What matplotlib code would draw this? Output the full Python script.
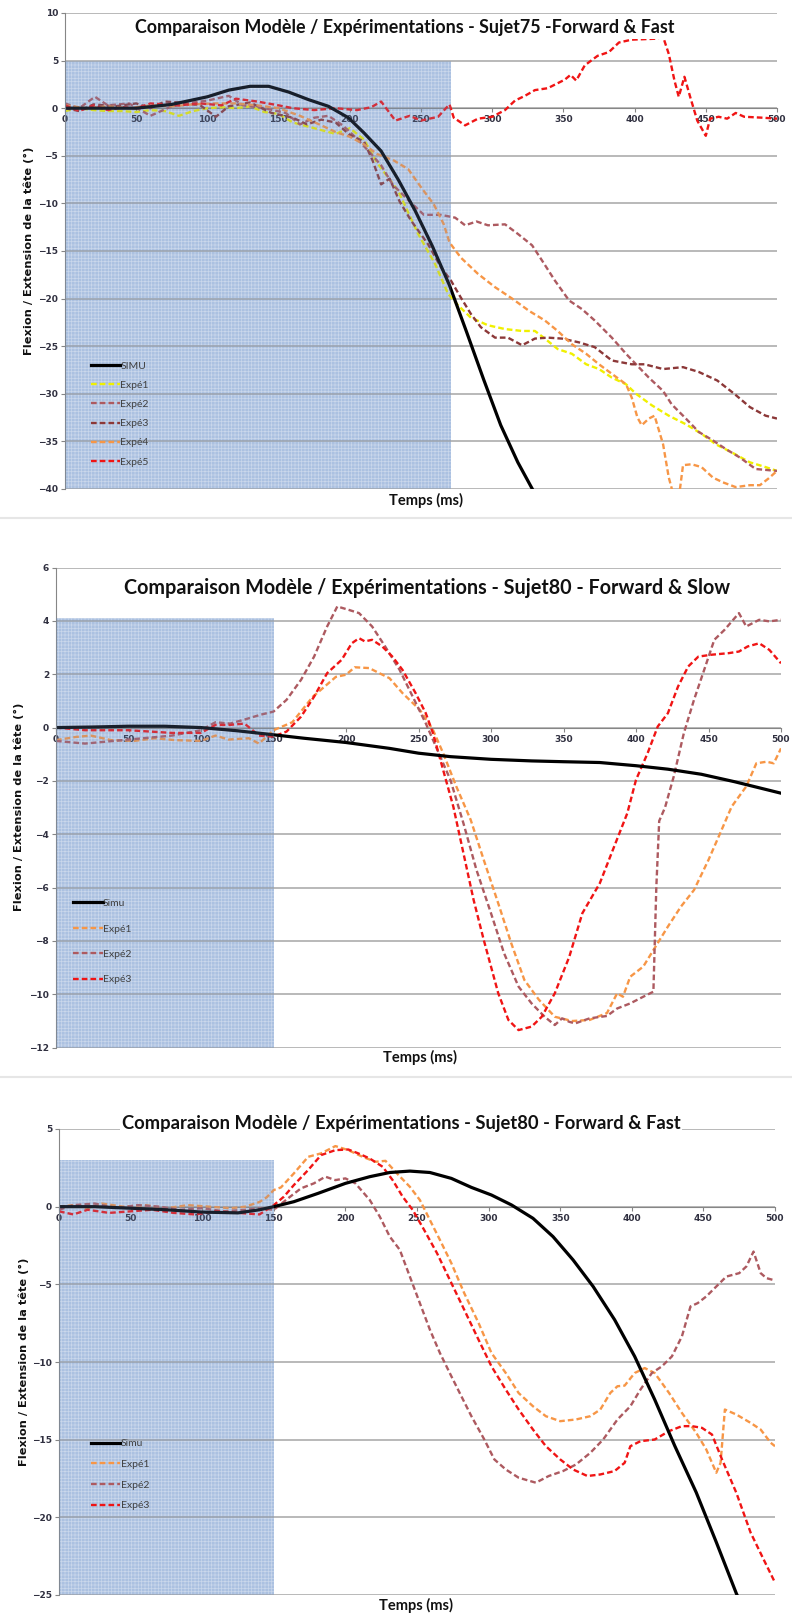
import numpy as np
import matplotlib.pyplot as plt
from matplotlib.patches import Rectangle
from matplotlib.lines import Line2D

plt.rcParams['hatch.linewidth'] = 0.5

# ---------------- data : Sujet75 Forward & Fast ----------------
t_simu1 = [0, 25, 50, 75, 100, 115, 130, 143, 157, 171, 185, 199, 210, 222, 234, 246, 258, 270, 282, 294, 306, 318, 330]
v_simu1 = [0, 0, 0, 0.4, 1.2, 1.9, 2.3, 2.3, 1.7, 0.9, 0.2, -1.0, -2.6, -4.5, -7.5, -10.8, -14.5, -18.6, -23.5, -28.5, -33.3, -37.2, -40.5]

t_exp1_1 = [0, 10, 20, 30, 40, 50, 60, 70, 80, 90, 100, 110, 120, 130, 140, 150, 160, 170, 180, 190, 200, 210, 219, 234, 248, 260, 269, 276, 285, 297, 309, 321, 330, 337, 346, 356, 366, 375, 384, 394, 401, 412, 424, 436, 447, 457, 470, 481, 492, 500]
v_exp1_1 = [-0.3, 0, -0.2, -0.3, -0.3, -0.4, -0.2, -0.3, -0.8, -0.3, 0, 0.1, 0, 0.2, -0.4, -0.6, -1.5, -1.9, -2.3, -2.7, -2.1, -3.3, -5.7, -8.7, -13.2, -16.4, -19.5, -20.7, -22.0, -22.8, -23.2, -23.4, -23.4, -24.2, -25.3, -25.8, -26.9, -27.4, -28.3, -29.0, -30.0, -31.2, -32.3, -33.2, -34.2, -35.3, -36.3, -37.2, -37.7, -38.1]

t_exp2_1 = [0, 10, 21, 30, 45, 60, 75, 90, 100, 115, 125, 140, 155, 165, 175, 185, 195, 205, 215, 222, 230, 240, 252, 264, 274, 281, 289, 297, 309, 318, 328, 335, 344, 354, 363, 372, 384, 394, 401, 410, 420, 426, 436, 445, 455, 464, 474, 485, 500]
v_exp2_1 = [0.5, 0, 1.2, 0.3, 0.5, -0.8, 0.2, 0.6, 0.8, 1.3, 0.3, 0, -0.5, -1.7, -1.0, -0.8, -1.8, -3.2, -4.8, -6.0, -8.0, -9.5, -11.2, -11.2, -11.5, -12.3, -11.9, -12.3, -12.2, -13.2, -14.4, -16.0, -18.1, -20.2, -21.1, -22.3, -24.1, -25.8, -26.9, -28.3, -29.7, -31.1, -32.6, -34.0, -34.9, -35.8, -36.7, -37.9, -38.1]

t_exp3_1 = [0, 10, 20, 35, 50, 60, 70, 80, 95, 106, 115, 130, 145, 160, 170, 180, 190, 200, 210, 216, 222, 228, 235, 243, 255, 264, 271, 278, 285, 292, 302, 311, 321, 330, 339, 349, 361, 372, 384, 398, 407, 420, 434, 445, 458, 470, 481, 492, 500]
v_exp3_1 = [0, -0.3, 0.4, 0.2, 0.5, 0, 0.7, 0.6, 0.3, -0.9, 0.2, 0.6, -0.5, -1.0, -1.7, -1.2, -1.5, -2.8, -3.5, -5.5, -8.0, -7.4, -9.8, -11.8, -14.3, -16.7, -18.1, -19.9, -21.6, -23.0, -24.1, -24.1, -24.9, -24.2, -24.1, -24.2, -24.6, -25.1, -26.5, -26.9, -26.9, -27.4, -27.2, -27.7, -28.6, -30.0, -31.4, -32.3, -32.6]

t_exp4_1 = [0, 15, 30, 45, 60, 75, 90, 105, 120, 135, 150, 165, 180, 190, 200, 210, 219, 231, 241, 250, 259, 266, 270, 278, 290, 302, 314, 326, 337, 346, 356, 366, 375, 384, 394, 398, 402, 405, 410, 414, 420, 424, 428, 431, 434, 440, 447, 455, 462, 471, 481, 488, 494, 500]
v_exp4_1 = [0.3, 0, 0.2, 0, 0.3, 0.2, 0.4, 0.5, 0.5, 0.3, 0, -0.8, -1.8, -2.5, -3.0, -3.8, -4.8, -5.5, -6.4, -8.3, -10.1, -12.2, -14.1, -15.7, -17.4, -18.8, -20.0, -21.3, -22.3, -23.4, -24.8, -25.8, -26.9, -27.9, -29.0, -30.4, -32.5, -33.3, -32.6, -32.3, -35.3, -38.8, -41, -41, -37.5, -37.4, -37.7, -38.8, -39.3, -39.8, -39.6, -39.6, -38.9, -38.1]

t_exp5_1 = [0, 10, 20, 30, 40, 50, 60, 70, 80, 95, 110, 120, 135, 150, 160, 175, 190, 205, 215, 222, 232, 242, 250, 262, 270, 273, 281, 290, 300, 309, 316, 323, 330, 339, 351, 355, 359, 365, 374, 382, 389, 398, 415, 420, 424, 428, 431, 435, 439, 444, 450, 453, 459, 465, 471, 477, 490, 500]
v_exp5_1 = [0.3, -0.3, 0.3, -0.2, 0.1, 0, 0.5, 0.4, 0.3, 0.5, 0.3, 1.0, 0.7, 0.3, 0, -0.2, 0, -0.2, 0.1, 0.7, -1.3, -0.8, -1.3, -0.9, 0.4, -1.0, -1.8, -1.1, -0.9, -0.2, 0.8, 1.3, 1.9, 2.1, 3.0, 3.5, 2.9, 4.5, 5.5, 5.9, 6.9, 7.2, 7.3, 7.5, 5.7, 2.9, 1.2, 3.3, 1.2, -1.3, -2.9, -1.1, -0.9, -1.1, -0.5, -0.9, -1.0, -1.1]

# ---------------- data : Sujet80 Forward & Slow ----------------
t_simu2 = [0, 25, 50, 75, 100, 125, 150, 171, 200, 230, 250, 272, 300, 328, 350, 375, 400, 422, 445, 468, 500]
v_simu2 = [0, 0.02, 0.05, 0.05, 0, -0.12, -0.27, -0.4, -0.56, -0.78, -0.96, -1.09, -1.19, -1.25, -1.28, -1.31, -1.43, -1.56, -1.75, -2.03, -2.46]

t_exp1_2 = [0, 14, 24, 38, 54, 68, 82, 100, 110, 119, 133, 140, 150, 163, 177, 193, 200, 206, 216, 230, 239, 251, 260, 267, 276, 286, 295, 305, 314, 323, 333, 344, 356, 368, 380, 387, 391, 396, 405, 412, 422, 431, 440, 450, 459, 466, 476, 483, 490, 495, 500]
v_exp1_2 = [-0.47, -0.35, -0.3, -0.47, -0.5, -0.4, -0.47, -0.5, -0.3, -0.45, -0.4, -0.6, -0.1, 0.2, 1.15, 1.9, 1.98, 2.26, 2.23, 1.85, 1.29, 0.66, -0.09, -0.96, -2.2, -3.46, -4.96, -6.59, -8.09, -9.46, -10.2, -10.84, -11.0, -10.96, -10.7, -9.96, -10.09, -9.34, -8.96, -8.34, -7.46, -6.71, -6.09, -4.96, -3.84, -2.96, -2.21, -1.34, -1.28, -1.34, -0.78]

t_exp2_2 = [0, 20, 40, 60, 80, 100, 110, 120, 130, 141, 150, 159, 169, 178, 187, 194, 202, 209, 218, 227, 237, 246, 255, 262, 272, 281, 290, 300, 309, 319, 328, 337, 344, 349, 354, 358, 368, 380, 387, 396, 405, 412, 414, 416, 420, 426, 433, 440, 447, 454, 461, 471, 476, 485, 492, 500]
v_exp2_2 = [-0.5, -0.6, -0.5, -0.4, -0.3, -0.1, 0.2, 0.15, 0.3, 0.48, 0.6, 1.04, 1.79, 2.66, 3.79, 4.54, 4.41, 4.29, 3.79, 3.04, 2.16, 1.16, 0.16, -0.71, -1.96, -3.59, -5.34, -6.96, -8.46, -9.71, -10.34, -10.84, -11.15, -10.9, -11.03, -11.09, -10.9, -10.81, -10.53, -10.34, -10.09, -9.9, -6.0, -3.5, -3.0, -1.84, -0.21, 1.04, 2.16, 3.29, 3.66, 4.29, 3.79, 4.04, 3.98, 4.04]

t_exp3_2 = [0, 20, 50, 80, 100, 110, 120, 130, 140, 150, 159, 169, 178, 187, 197, 204, 209, 213, 218, 225, 232, 239, 248, 255, 260, 267, 274, 281, 288, 295, 305, 312, 319, 328, 335, 344, 354, 363, 375, 384, 394, 400, 408, 415, 422, 429, 436, 443, 452, 464, 471, 477, 485, 492, 500]
v_exp3_2 = [0, -0.1, -0.1, -0.2, -0.2, 0.1, 0.1, 0.15, -0.3, -0.34, -0.15, 0.41, 1.16, 2.04, 2.54, 3.16, 3.35, 3.23, 3.29, 3.04, 2.66, 2.16, 1.29, 0.54, -0.21, -1.59, -2.96, -4.71, -6.46, -7.96, -9.96, -10.96, -11.34, -11.21, -10.84, -9.96, -8.59, -6.96, -5.84, -4.59, -3.21, -1.96, -0.96, 0.04, 0.54, 1.54, 2.29, 2.66, 2.73, 2.79, 2.85, 3.04, 3.16, 2.91, 2.41]

# ---------------- data : Sujet80 Forward & Fast ----------------
t_simu3 = [0, 25, 50, 75, 100, 125, 140, 150, 164, 181, 200, 217, 231, 245, 259, 274, 288, 302, 316, 331, 345, 359, 373, 388, 402, 416, 430, 445, 459, 473, 476]
v_simu3 = [0, 0, -0.1, -0.2, -0.35, -0.4, -0.2, 0, 0.32, 0.86, 1.5, 1.93, 2.2, 2.29, 2.2, 1.82, 1.24, 0.75, 0.11, -0.75, -1.93, -3.43, -5.14, -7.28, -9.64, -12.42, -15.4, -18.4, -21.6, -24.9, -25.5]

t_exp1_3 = [0, 10, 20, 30, 45, 60, 75, 90, 105, 120, 130, 140, 145, 150, 155, 164, 174, 183, 193, 202, 212, 221, 228, 236, 245, 252, 259, 266, 274, 283, 293, 302, 312, 321, 331, 340, 350, 361, 371, 378, 385, 390, 395, 402, 409, 416, 426, 435, 445, 452, 459, 462, 465, 473, 483, 490, 497, 500]
v_exp1_3 = [0, 0.1, -0.1, 0.2, 0, 0.1, -0.1, 0.1, 0, -0.1, 0, 0.3, 0.6, 1.07, 1.24, 2.14, 3.21, 3.43, 3.9, 3.64, 3.21, 2.89, 2.95, 2.14, 1.28, 0.43, -0.86, -2.14, -3.64, -5.57, -7.49, -9.42, -10.71, -12.0, -12.85, -13.49, -13.81, -13.7, -13.49, -13.06, -11.99, -11.56, -11.52, -10.71, -10.39, -10.71, -11.99, -13.28, -14.56, -15.63, -17.13, -16.49, -13.06, -13.38, -13.92, -14.35, -15.2, -15.42]

t_exp2_3 = [0, 10, 25, 40, 55, 70, 85, 100, 115, 130, 140, 150, 160, 169, 178, 186, 193, 200, 207, 217, 224, 231, 238, 245, 252, 259, 266, 274, 281, 288, 297, 304, 312, 321, 333, 342, 352, 361, 371, 380, 390, 399, 406, 414, 421, 428, 435, 441, 446, 452, 459, 466, 475, 480, 485, 490, 494, 500]
v_exp2_3 = [-0.2, 0.1, 0.2, -0.1, 0.1, 0, -0.2, -0.1, -0.3, -0.2, -0.1, -0.2, 0.54, 1.18, 1.5, 1.93, 1.71, 1.82, 1.5, 0.43, -0.64, -1.93, -2.78, -4.5, -6.21, -7.92, -9.42, -10.92, -12.21, -13.49, -14.99, -16.27, -16.92, -17.45, -17.77, -17.34, -17.02, -16.6, -15.85, -14.99, -13.7, -12.85, -11.78, -10.71, -10.28, -9.64, -8.35, -6.42, -6.21, -5.78, -5.14, -4.5, -4.28, -3.85, -2.89, -4.28, -4.6, -4.75]

t_exp3_3 = [0, 10, 20, 35, 50, 65, 80, 95, 110, 125, 140, 150, 157, 164, 174, 183, 193, 202, 209, 217, 226, 233, 240, 247, 255, 264, 274, 283, 293, 302, 312, 321, 331, 340, 350, 359, 369, 378, 388, 395, 399, 406, 416, 426, 435, 442, 449, 456, 463, 473, 483, 492, 500]
v_exp3_3 = [-0.3, -0.5, -0.2, -0.4, -0.3, -0.2, -0.4, -0.5, -0.3, -0.4, -0.5, 0.1, 0.64, 1.39, 2.36, 3.32, 3.64, 3.68, 3.43, 3.1, 2.57, 1.71, 0.64, -0.21, -1.5, -3.0, -4.92, -6.64, -8.57, -10.28, -11.78, -13.06, -14.35, -15.42, -16.27, -16.92, -17.34, -17.24, -17.02, -16.49, -15.42, -15.1, -14.99, -14.45, -14.13, -14.13, -14.24, -14.67, -16.27, -18.42, -20.99, -22.7, -24.2]

titles = ["Comparaison Modèle / Expérimentations - Sujet75 -Forward & Fast",
          "Comparaison Modèle / Expérimentations - Sujet80 - Forward & Slow",
          "Comparaison Modèle / Expérimentations - Sujet80 - Forward & Fast"]
ylabel = "Flexion / Extension de la tête (°)"
xlabel = "Temps (ms)"

# colours
c_simu = '#000000'
c_yel = '#f0f000'
c_mauve = '#ad5a60'
c_brown = '#8c3838'
c_orange = '#f79646'
c_red = '#f01414'

W, H = 792, 1616
fig = plt.figure(figsize=(W / 100, H / 100), dpi=100)


def make_axes(left, right, top, bottom):
    return fig.add_axes([left / W, 1 - bottom / H, (right - left) / W, (bottom - top) / H])


def style(ax, ymin, ymax, ystep, shade_t, shade_top):
    ax.set_xlim(0, 500)
    ax.set_ylim(ymin, ymax)
    ax.set_xticks(np.arange(0, 501, 50))
    ax.set_yticks(np.arange(ymin, ymax + 0.01, ystep))
    ax.spines['top'].set_visible(False)
    ax.spines['right'].set_visible(False)
    ax.spines['bottom'].set_position(('data', 0))
    ax.spines['bottom'].set_color('#868686')
    ax.spines['left'].set_color('#868686')
    ax.spines['bottom'].set_zorder(1)
    ax.yaxis.grid(True, color='#a6a6a6', lw=1.1)
    ax.set_axisbelow(True)
    ax.tick_params(axis='both', length=3, color='#868686', labelsize=6.5, pad=2)
    for lb in ax.get_xticklabels() + ax.get_yticklabels():
        lb.set_fontweight('bold')
        lb.set_color('#303040')
    # shaded zone
    base = Rectangle((0, ymin), shade_t, shade_top - ymin, facecolor='#bdd0ea',
                     edgecolor='#e4ecf7', hatch='+++++', lw=0, zorder=0.2)
    ax.add_patch(base)
    over = Rectangle((0, ymin), shade_t, shade_top - ymin, facecolor='#6f90c4',
                     alpha=0.22, lw=0, zorder=3)
    ax.add_patch(over)


def add_legend(ax, x0, y0, spacing):
    leg = ax.legend(loc='upper left', bbox_to_anchor=(x0, y0), frameon=False,
                    handlelength=2.8, handletextpad=0.05,
                    labelspacing=spacing, borderaxespad=0, borderpad=0,
                    prop={'family': ['Lato', 'DejaVu Sans'], 'size': 7.5})
    for tx in leg.get_texts():
        tx.set_color('#404040')
    leg.set_zorder(5)


dash = (2.4, 1.3)
lw_d = 1.7

# ---------------- panel 1 ----------------
ax1 = make_axes(65, 777, 13, 489)
style(ax1, -40, 10, 5, 271, 5)
ax1.plot(t_simu1, v_simu1, color=c_simu, lw=2.3, label='SIMU', zorder=2.5)
ax1.plot(t_exp1_1, v_exp1_1, color=c_yel, lw=lw_d, dashes=dash, label='Expé1', zorder=2)
ax1.plot(t_exp2_1, v_exp2_1, color=c_mauve, lw=lw_d, dashes=dash, label='Expé2', zorder=2)
ax1.plot(t_exp3_1, v_exp3_1, color=c_brown, lw=lw_d, dashes=dash, label='Expé3', zorder=2)
ax1.plot(t_exp4_1, v_exp4_1, color=c_orange, lw=lw_d, dashes=dash, label='Expé4', zorder=2)
ax1.plot(t_exp5_1, v_exp5_1, color=c_red, lw=lw_d, dashes=dash, label='Expé5', zorder=2)
add_legend(ax1, 0.036, 0.268, 0.95)

# ---------------- panel 2 ----------------
ax2 = make_axes(56, 781, 567.5, 1047.7)
style(ax2, -12, 6, 2, 150, 4.1)
ax2.plot(t_simu2, v_simu2, color=c_simu, lw=2.3, label='Simu', zorder=2.5)
ax2.plot(t_exp1_2, v_exp1_2, color=c_orange, lw=lw_d, dashes=dash, label='Expé1', zorder=2)
ax2.plot(t_exp2_2, v_exp2_2, color=c_mauve, lw=lw_d, dashes=dash, label='Expé2', zorder=2)
ax2.plot(t_exp3_2, v_exp3_2, color=c_red, lw=lw_d, dashes=dash, label='Expé3', zorder=2)
add_legend(ax2, 0.024, 0.31, 1.55)

# ---------------- panel 3 ----------------
ax3 = make_axes(59, 775, 1129, 1595)
style(ax3, -25, 5, 5, 150, 3)
ax3.plot(t_simu3, v_simu3, color=c_simu, lw=2.3, label='Simu', zorder=2.5)
ax3.plot(t_exp1_3, v_exp1_3, color=c_orange, lw=lw_d, dashes=dash, label='Expé1', zorder=2)
ax3.plot(t_exp2_3, v_exp2_3, color=c_mauve, lw=lw_d, dashes=dash, label='Expé2', zorder=2)
ax3.plot(t_exp3_3, v_exp3_3, color=c_red, lw=lw_d, dashes=dash, label='Expé3', zorder=2)
add_legend(ax3, 0.045, 0.335, 1.1)

# titles, axis labels
title_pos = [(405, 28, 12.9), (427, 588, 14.2), (401, 1123, 13.2)]
for (x, y, fs), tt in zip(title_pos, titles):
    fig.text(x / W, 1 - y / H, tt, ha='center', va='center', fontsize=fs,
             fontweight='bold', family=['Lato', 'DejaVu Sans'], color='#111111',
             bbox=dict(facecolor='white', edgecolor='none', pad=1.5), zorder=10)

ylab_pos = [(29, 251), (19, 807), (24, 1362)]
for x, y in ylab_pos:
    fig.text(x / W, 1 - y / H, ylabel, rotation=90, ha='center', va='center',
             fontsize=8.2, fontweight='bold', color='#111111')

xlab_pos = [(426, 500), (420, 1057), (416, 1605)]
for x, y in xlab_pos:
    fig.text(x / W, 1 - y / H, xlabel, ha='center', va='center', fontsize=10.5,
             fontweight='bold', family=['Lato', 'DejaVu Sans'], color='#111111')

# thin frames between the three charts
for y in [518, 1077]:
    fig.add_artist(Line2D([0, 1], [1 - y / H, 1 - y / H], color='#e6e6e6', lw=1.5))

fig.savefig('out.png', dpi=100)
